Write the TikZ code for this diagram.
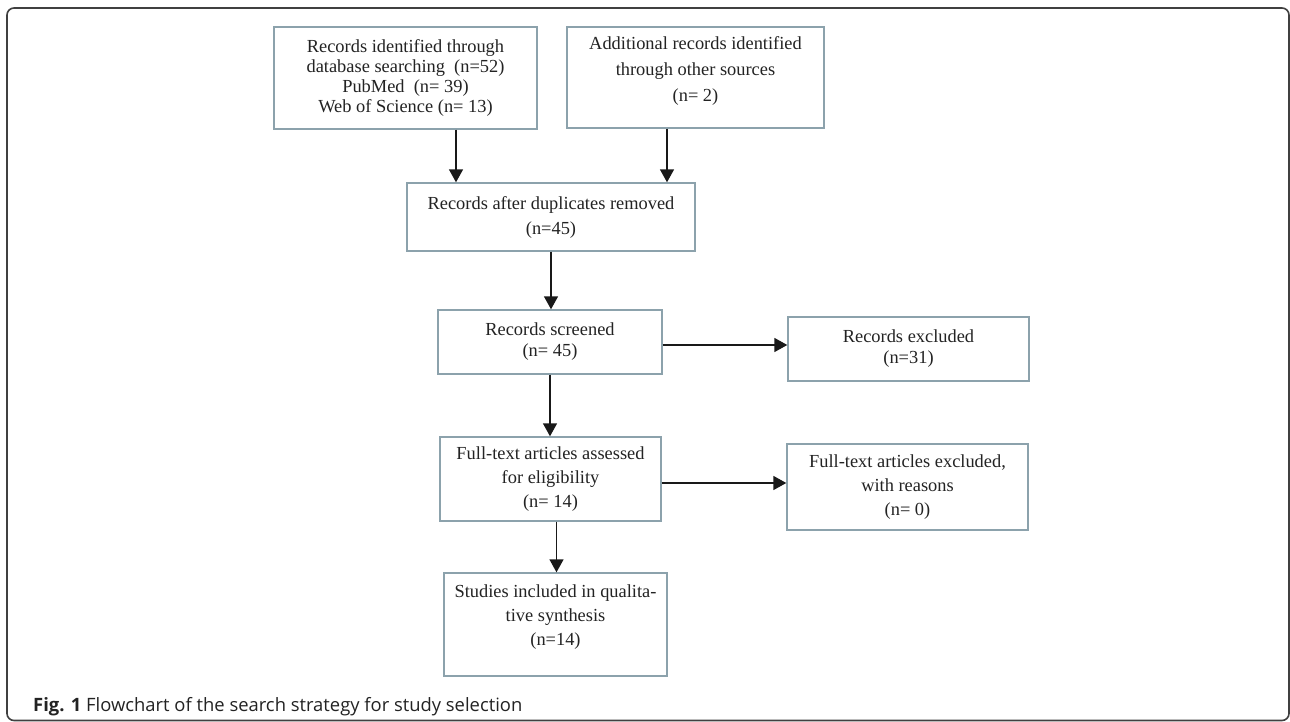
\documentclass[tikz,border=0pt]{standalone}
\usepackage{fontspec}
\setmainfont{Liberation Serif}
\newfontfamily\capfont{Open Sans}
\usetikzlibrary{arrows.meta}
\definecolor{boxline}{RGB}{140,162,172}
\definecolor{txt}{RGB}{35,35,35}
\begin{document}
\begin{tikzpicture}[x=1pt,y=-1pt,
  box/.style={draw=boxline, line width=1.4pt, rectangle, align=center, inner sep=0pt, text=txt, font=\fontsize{18.4}{#1}\selectfont},
  box/.default=21,
  arr/.style={draw=black!90, line width=1.5pt, -{Triangle[length=13pt,width=14pt]}},
  frame/.style={draw=black!75, line width=1.6pt, rounded corners=7pt},
  caption/.style={anchor=base west, inner sep=0pt, text=txt, font=\capfont\fontsize{18.4}{22}\selectfont}
]
\fill[white] (0,0) rectangle (1290,722);
\useasboundingbox (0,0) rectangle (1290,722);
\draw[frame] (7,8) rectangle (1289,720.5);

\node[box=20, minimum width=263pt, minimum height=102pt] (b1) at (405.5,78)
  {Records identified through\\database searching\ \ (n=52)\\PubMed\ \ (n= 39)\\Web of Science (n= 13)};
\node[box=26, minimum width=257pt, minimum height=101pt] (b2) at (695.5,77.5)
  {Additional records identified\\through other sources\\(n= 2)\rule[-17pt]{0pt}{0pt}};
\node[box=25, minimum width=288pt, minimum height=68pt] (b3) at (551,217)
  {Records after duplicates removed\\(n=45)};
\node[box=21, minimum width=224pt, minimum height=64pt] (b4) at (550,342)
  {Records screened\\(n= 45)};
\node[box=21, minimum width=241pt, minimum height=64pt] (e1) at (908.5,349)
  {Records excluded\\(n=31)};
\node[box=24, minimum width=221pt, minimum height=84pt] (b5) at (550.5,479)
  {Full-text articles assessed\\for eligibility\\(n= 14)};
\node[box=24, minimum width=241pt, minimum height=86pt] (e2) at (907.5,487)
  {Full-text articles excluded,\\with reasons\\(n= 0)};
\node[box=24, minimum width=223pt, minimum height=103pt] (b6) at (555.5,624.5)
  {Studies included in qualita-\\tive synthesis\\(n=14)\rule[-19pt]{0pt}{0pt}};

\draw[arr] ([xshift=50.5pt]b1.south) -- ([xshift=50.5pt]b1.south |- b3.north);
\draw[arr] ([xshift=-28.5pt]b2.south) -- ([xshift=-28.5pt]b2.south |- b3.north);
\draw[arr] (b3.south) -- (b3.south |- b4.north);
\draw[arr] (b4.south) -- (b4.south |- b5.north);
\draw[arr] ([xshift=6pt]b5.south) -- ([xshift=6pt]b5.south |- b6.north);
\draw[arr] ([yshift=-3pt]b4.east) -- ([yshift=-3pt]b4.east -| e1.west);
\draw[arr] ([yshift=-4pt]b5.east) -- ([yshift=-4pt]b5.east -| e2.west);

\node[caption] (cap) at (33,711) {\textbf{Fig. 1} Flowchart of the search strategy for study selection};
\end{tikzpicture}
\end{document}
